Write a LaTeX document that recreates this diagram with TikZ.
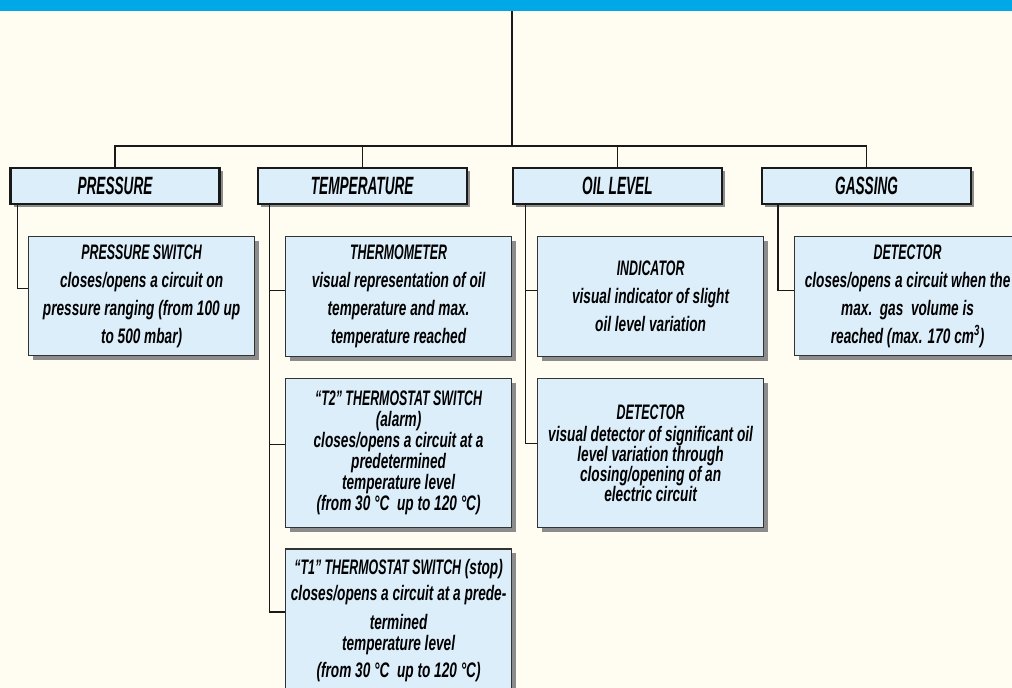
\documentclass[tikz,border=0pt]{standalone}
\usepackage{fontspec}
\setmainfont{Liberation Sans}[FakeStretch=0.65]
\newfontfamily\capfont{Liberation Sans}[FakeStretch=0.59]
\newfontfamily\catfont{Liberation Sans}[FakeStretch=0.545]
\usetikzlibrary{positioning,shadows}
\definecolor{barblue}{RGB}{0,168,232}
\definecolor{paper}{RGB}{255,252,242}
\definecolor{boxblue}{RGB}{221,238,251}
\definecolor{shade}{RGB}{140,140,140}

\begin{document}
\begin{tikzpicture}[x=1pt,y=-1pt,
    cat/.style={draw=black!90,line width=2.2pt,fill=boxblue,minimum width=209pt,minimum height=36pt,inner sep=0pt,
      drop shadow={shadow xshift=3pt,shadow yshift=-3pt,fill=shade,opacity=1},
      font=\fontsize{25}{30}\selectfont\catfont\bfseries\itshape},
    item/.style={draw=black!80,line width=1.2pt,fill=boxblue,minimum width=226pt,inner xsep=3pt,inner ysep=0pt,align=center,
      drop shadow={shadow xshift=4pt,shadow yshift=-4pt,fill=shade,opacity=1},
      font=\fontsize{21}{28}\selectfont\bfseries\itshape},
    tight/.style={font=\fontsize{21}{21}\selectfont\bfseries\itshape},
    link/.style={line width=1.1pt,black!90}]
      \clip (0,0) rectangle (1012,688);
      \fill[paper] (0,0) rectangle (1012,688);
      \fill[barblue] (0,0) rectangle (1012,11);

      \node[cat] (pres) at (115,186) {PRESSURE};
      \node[cat,right=36pt of pres] (temp) {TEMPERATURE};
      \node[cat,right=44pt of temp] (oil) {OIL LEVEL};
      \node[cat,right=38pt of oil] (gas) {GASSING};

      \node[item,minimum height=119pt,anchor=north west] (pswitch) at (28,236)
        {{\capfont PRESSURE SWITCH}\\closes/opens a circuit on\\pressure ranging (from 100 up\\to 500 mbar)};
      \node[item,minimum height=120pt,anchor=north west] (thermo) at (285,236)
        {{\capfont THERMOMETER}\\visual representation of oil\\temperature and max.\\temperature reached};
      \node[item,tight,minimum height=149pt,below=21pt of thermo] (ttwo)
        {{\capfont “T2” THERMOSTAT SWITCH}\\(alarm)\\closes/opens a circuit at a\\predetermined\\temperature level\\(from 30 °C\ \ up to 120 °C)};
      \node[item,minimum height=144pt,below=20pt of ttwo,font=\fontsize{21}{24}\selectfont\bfseries\itshape] (tone)
        {{\capfont “T1” THERMOSTAT SWITCH} (stop)\\[2pt]closes/opens a circuit at a prede-\\[5pt]termined\\[-3pt]temperature level\\[3pt](from 30 °C\ \ up to 120 °C)};
      \node[item,minimum height=120pt,anchor=north west] (indic) at (537,236)
        {{\capfont INDICATOR}\\visual indicator of slight\\oil level variation};
      \node[item,tight,minimum height=149pt,below=21pt of indic,font=\fontsize{21}{20}\selectfont\bfseries\itshape] (oildet)
        {{\capfont DETECTOR}\\[2pt]visual detector of significant oil\\level variation through\\closing/opening of an\\electric circuit};
      \node[item,minimum height=119pt,anchor=north west] (gasdet) at (794,236)
        {{\capfont DETECTOR}\\closes/opens a circuit when the\\max.\ \ gas\ \ volume is\\reached (max. 170 cm\textsuperscript{3})};

      %trunk
      \coordinate (top) at (512,11);
      \coordinate (hub) at (512,146);
      \draw[link] (top) -- (hub);
      \draw[link] (pres.north) |- (hub) -| (gas.north);
      \draw[link] (temp.north) -- (temp.north |- hub);
      \draw[link] (oil.north) -- (oil.north |- hub);

      %branches
      \draw[link] ([xshift=8pt]pres.south west) |- ([yshift=8pt]pswitch.west);
      \draw[link] ([xshift=13pt]temp.south west) |- ([yshift=9pt]tone.west);
      \draw[link] ([yshift=6pt]thermo.west) -| ([xshift=13pt]temp.south west);
      \draw[link] ([yshift=9pt]ttwo.west) -| ([xshift=13pt]temp.south west);
      \draw[link] ([xshift=14pt]oil.south west) |- ([yshift=10pt]oildet.west);
      \draw[link] ([yshift=6pt]indic.west) -| ([xshift=14pt]oil.south west);
      \draw[link] ([xshift=17pt]gas.south west) |- ([yshift=6pt]gasdet.west);
\end{tikzpicture}
\end{document}
